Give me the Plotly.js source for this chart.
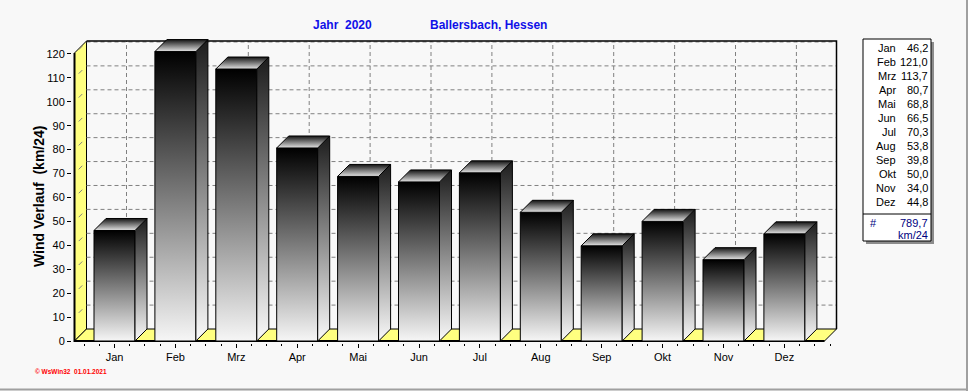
<!DOCTYPE html>
<html><head><meta charset="utf-8">
<script src="https://cdn.plot.ly/plotly-3.0.1.min.js"></script>
<style>html,body{margin:0;padding:0;background:#f8f8f8;}#chart{width:968px;height:391px;}</style>
</head><body><div id="chart"></div>
<script>
// ---- data ----
const months = ['Jan','Feb','Mrz','Apr','Mai','Jun','Jul','Aug','Sep','Okt','Nov','Dez'];
const wind = [46.2,121.0,113.7,80.7,68.8,66.5,70.3,53.8,39.8,50.0,34.0,44.8];
const total = 789.7;
const unit = 'km/24';
const yTicks = [0,10,20,30,40,50,60,70,80,90,100,110,120];
const titleYear = 'Jahr\u00a0 2020';
const titleSite = 'Ballersbach, Hessen';
const yTitle = 'Wind Verlauf\u00a0 (km/24)';
const footer = '\u00a9 WsWin32\u00a0 01.01.2021';

// ---- geometry (pixel layout) ----
const L=72, R=840, T=38, B=343;
const PX0=114.5, PXS=60.9, PY0=341, PYS=2.392;
const xr=[(L-PX0)/PXS,(R-PX0)/PXS];
const yr=[(PY0-B)/PYS,(PY0-T)/PYS];
const dx=12/PXS, dy=12/PYS;
const xFront=(74.5-PX0)/PXS;
const xBackR=(836.5-PX0)/PXS;
const yBackTop=(PY0-41)/PYS;
const hw=20.5/PXS;
const FONT='Liberation Sans, Arial, sans-serif';
const YEL='#ffff80';
const fmt=v=>v.toFixed(1).replace('.',',');
const ax=px=>(px-L)/(R-L);
const ay=py=>(B-py)/(B-T);

const traces=[];
const base={type:'scatter',mode:'lines',hoverinfo:'skip',showlegend:false};

// left wall
traces.push(Object.assign({},base,{
  x:[xFront,xFront,xFront+dx,xFront+dx,xFront],
  y:[0,yBackTop-dy,yBackTop,dy,0],
  fill:'toself',fillcolor:YEL,line:{color:'#000',width:1}
}));
// floor
traces.push(Object.assign({},base,{
  x:[xFront,xFront+dx,xBackR,xBackR-dx,xFront],
  y:[0,dy,dy,0,0],
  fill:'toself',fillcolor:YEL,line:{color:'#000',width:1}
}));
// back wall horizontal grid
let gx=[],gy=[];
yTicks.filter(v=>v>0).forEach(v=>{gx.push(xFront+dx,xBackR,null);gy.push(v+dy,v+dy,null);});
months.forEach((m,i)=>{gx.push(i+dx,i+dx,null);gy.push(dy,yBackTop,null);});
traces.push(Object.assign({},base,{x:gx,y:gy,line:{color:'#808080',width:1,dash:'4px,3px'}}));
// left wall diagonal grid marks
let dxs=[],dys=[];
yTicks.filter(v=>v>0).forEach(v=>{dxs.push(xFront,xFront+dx,null);dys.push(v,v+dy,null);});
traces.push(Object.assign({},base,{x:dxs,y:dys,line:{color:'#808080',width:1,dash:'0px,6px,5px,30px'}}));
// back wall border
traces.push(Object.assign({},base,{
  x:[xFront+dx,xBackR,xBackR],y:[yBackTop,yBackTop,dy],line:{color:'#000',width:1.5}
}));
// front axis lines
traces.push(Object.assign({},base,{
  x:[xFront,xFront,xBackR-dx],y:[yBackTop-dy,0,0],line:{color:'#000',width:2}
}));

// bars
wind.forEach((v,i)=>{
  const a=i-hw, b=i+hw;
  traces.push(Object.assign({},base,{
    x:[a,b,b,a,a],y:[0,0,v,v,0],fill:'toself',
    fillgradient:{type:'vertical',start:0,stop:v,colorscale:[[0,'#f6f6f6'],[1,'#000000']]},
    line:{color:'#000',width:1}
  }));
  traces.push(Object.assign({},base,{
    x:[b,b+dx,b+dx,b,b],y:[0,dy,v+dy,v,0],fill:'toself',
    fillgradient:{type:'vertical',start:0,stop:v+dy,colorscale:[[0,'#fafafa'],[1,'#1c1c1c']]},
    line:{color:'#000',width:1}
  }));
  traces.push(Object.assign({},base,{
    x:[a,b,b+dx,a+dx,a],y:[v,v,v+dy,v+dy,v],fill:'toself',
    fillgradient:{type:'vertical',start:v,stop:v+dy,colorscale:[[0,'#e4e4e4'],[1,'#141414']]},
    line:{color:'#000',width:1}
  }));
});

// annotations
const ann=[];
ann.push({xref:'paper',yref:'paper',x:ax(311),y:ay(25),xanchor:'left',yanchor:'middle',showarrow:false,
  text:titleYear,font:{family:FONT,size:12,color:'#1010e8',weight:'bold'}});
ann.push({xref:'paper',yref:'paper',x:ax(428),y:ay(25),xanchor:'left',yanchor:'middle',showarrow:false,
  text:titleSite,font:{family:FONT,size:12,color:'#1010e8',weight:'bold'}});
ann.push({xref:'paper',yref:'paper',x:ax(39),y:ay(197),xanchor:'center',yanchor:'middle',showarrow:false,
  textangle:-90,text:yTitle,font:{family:FONT,size:14,color:'#000',weight:'bold'}});
ann.push({xref:'paper',yref:'paper',x:ax(33),y:ay(371),xanchor:'left',yanchor:'middle',showarrow:false,
  text:footer,font:{family:FONT,size:6.5,color:'#ff0000',weight:'bold'}});
months.forEach((m,i)=>{
  const py=48+i*14;
  ann.push({xref:'paper',yref:'paper',x:ax(898),y:ay(py),xanchor:'right',yanchor:'middle',showarrow:false,
    text:m,font:{family:FONT,size:11,color:'#000'}});
  ann.push({xref:'paper',yref:'paper',x:ax(930),y:ay(py),xanchor:'right',yanchor:'middle',showarrow:false,
    text:fmt(wind[i]),font:{family:FONT,size:11,color:'#000'}});
});
ann.push({xref:'paper',yref:'paper',x:ax(873),y:ay(223),xanchor:'center',yanchor:'middle',showarrow:false,
  text:'#',font:{family:FONT,size:11,color:'#000080'}});
ann.push({xref:'paper',yref:'paper',x:ax(930),y:ay(223),xanchor:'right',yanchor:'middle',showarrow:false,
  text:fmt(total),font:{family:FONT,size:11,color:'#000080'}});
ann.push({xref:'paper',yref:'paper',x:ax(930),y:ay(235),xanchor:'right',yanchor:'middle',showarrow:false,
  text:unit,font:{family:FONT,size:11,color:'#000080'}});

const shapes=[
  {type:'rect',xref:'paper',yref:'paper',x0:ax(866),x1:ax(934),y0:ay(42),y1:ay(244),fillcolor:'#8c8c8c',line:{width:0}},
  {type:'rect',xref:'paper',yref:'paper',x0:ax(863),x1:ax(931),y0:ay(39),y1:ay(241),fillcolor:'#ffffff',line:{color:'#000',width:1}},
  {type:'line',xref:'paper',yref:'paper',x0:ax(863),x1:ax(931),y0:ay(214),y1:ay(214),line:{color:'#000',width:1}},
  {type:'line',xref:'paper',yref:'paper',x0:ax(967),x1:ax(967),y0:ay(0),y1:ay(391),line:{color:'#a0a0a0',width:2}},
  {type:'line',xref:'paper',yref:'paper',x0:ax(0),x1:ax(968),y0:ay(389.5),y1:ay(389.5),line:{color:'#a0a0a0',width:2}}
];

const layout={
  width:968,height:391,
  margin:{l:L,r:968-R,t:T,b:391-B,pad:0},
  paper_bgcolor:'#f8f8f8',plot_bgcolor:'#f8f8f8',
  font:{family:FONT,size:11,color:'#000'},
  showlegend:false,
  xaxis:{range:xr,tickmode:'array',tickvals:months.map((m,i)=>i),ticktext:months,
    ticks:'outside',ticklen:4,tickcolor:'#000',showgrid:false,zeroline:false,showline:false,
    tickfont:{family:FONT,size:11,color:'#000'},fixedrange:true,
    minor:{tickmode:'linear',tick0:0,dtick:0.25,ticks:'outside',ticklen:2,tickcolor:'#000',showgrid:false}},
  yaxis:{range:yr,tickmode:'array',tickvals:yTicks,ticks:'outside',ticklen:4,tickcolor:'#000',
    showgrid:false,zeroline:false,showline:false,tickfont:{family:FONT,size:11,color:'#000'},fixedrange:true},
  annotations:ann,shapes:shapes
};
Plotly.newPlot('chart',traces,layout,{displayModeBar:false,staticPlot:true});
</script></body></html>
